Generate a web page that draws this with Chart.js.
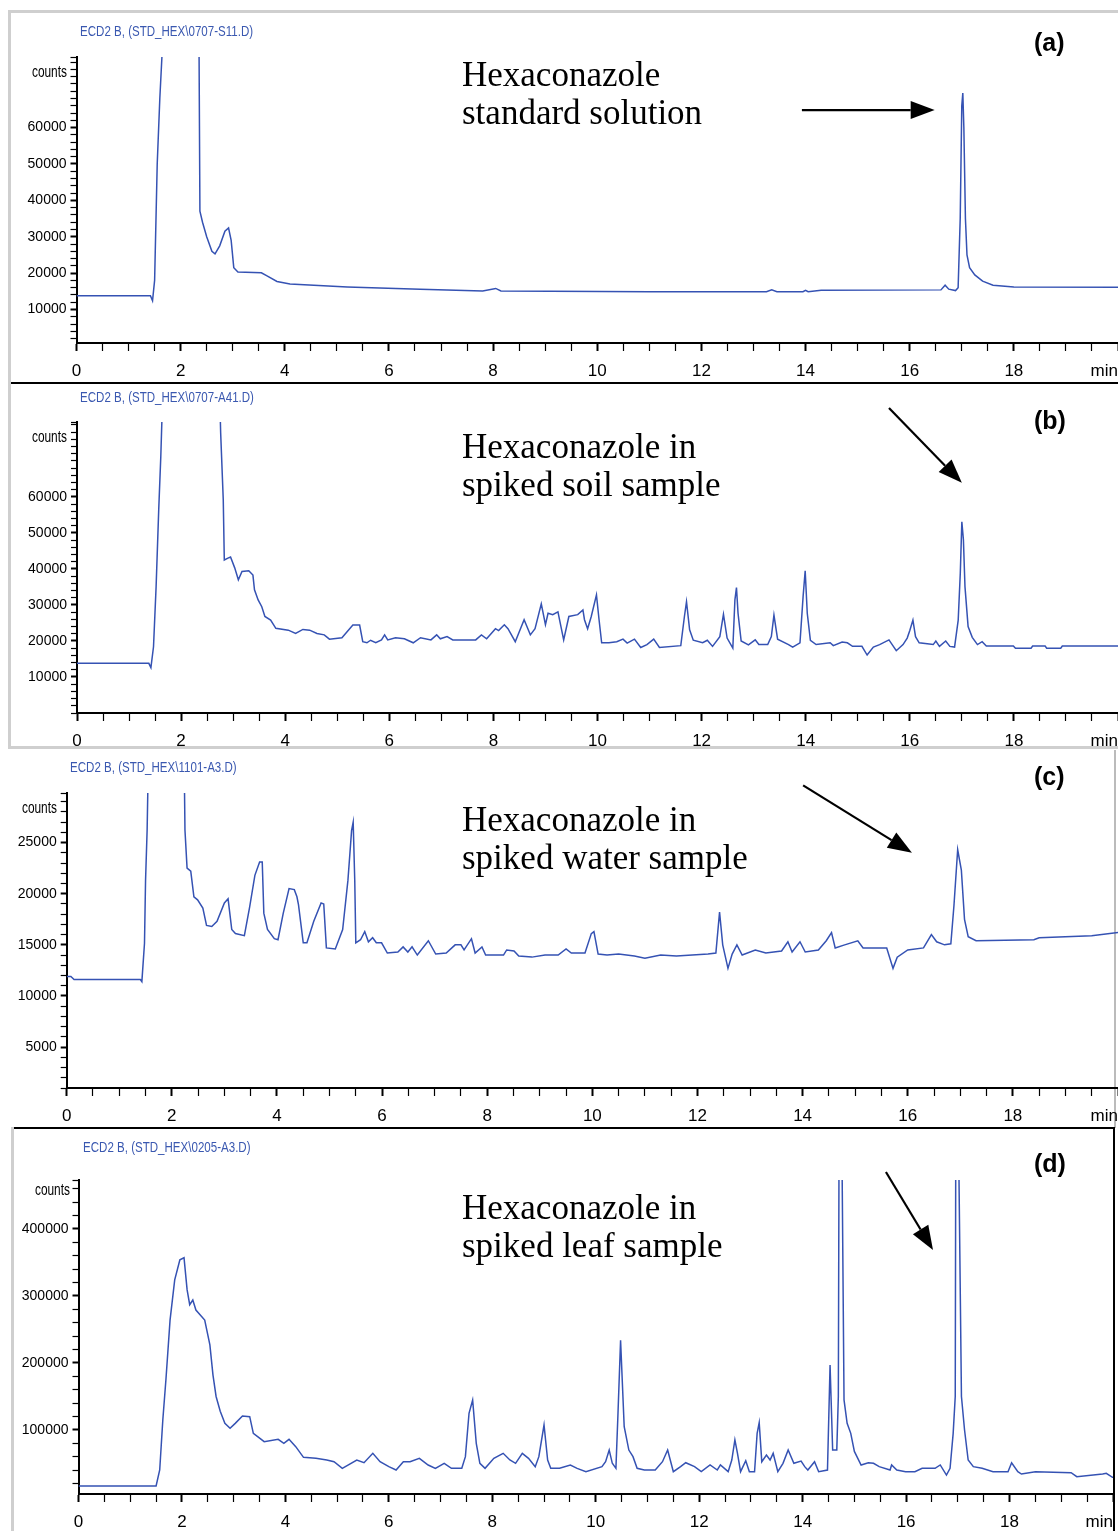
<!DOCTYPE html>
<html>
<head>
<meta charset="utf-8">
<script src="https://cdn.jsdelivr.net/npm/chart.js@4.4.0/dist/chart.umd.min.js"></script>
<style>
  html, body { margin: 0; padding: 0; background: #fff; }
  body { position: relative; width: 1118px; height: 1531px; overflow: hidden; }
  canvas { position: absolute; left: 0; }
  .run { position: absolute; font-family: 'Liberation Sans', Arial, sans-serif; font-size: 15px; line-height: 16px;
         color: #3a58b0; white-space: nowrap; transform: scaleX(0.77); transform-origin: left center; }
  .counts { position: absolute; width: 60px; text-align: right; font-family: 'Liberation Sans', Arial, sans-serif;
            font-size: 17px; line-height: 18px; color: #000; transform: scaleX(0.7); transform-origin: right center; }
  .note { position: absolute; left: 462px; font-family: 'Liberation Serif', 'Times New Roman', serif;
          font-size: 35px; line-height: 38px; color: #000; white-space: nowrap; }
  .tag { position: absolute; left: 1034px; font-family: 'Liberation Sans', Arial, sans-serif; font-weight: bold;
         font-size: 25px; line-height: 26px; color: #000; }
  .rule { position: absolute; }
</style>
</head>
<body>

<!-- panel frames -->
<div class="rule" style="left:8px; top:10px; width:1110px; height:3px; background:#cfcfcf"></div>
<div class="rule" style="left:8px; top:10px; width:3px; height:738px; background:#cfcfcf"></div>
<div class="rule" style="left:11px; top:382px; width:1107px; height:2px; background:#000"></div>
<div class="rule" style="left:8px; top:746px; width:1110px; height:3px; background:#cfcfcf"></div>
<div class="rule" style="left:1114px; top:750px; width:2px; height:378px; background:#bbb"></div>
<div class="rule" style="left:13px; top:1127px; width:1102px; height:2px; background:#000"></div>
<div class="rule" style="left:11px; top:1127px; width:3px; height:404px; background:#cfcfcf"></div>
<div class="rule" style="left:1113px; top:1127px; width:2px; height:404px; background:#000"></div>

<canvas id="chartA" width="1118" height="383" style="top:0px"></canvas>
<canvas id="chartB" width="1118" height="369" style="top:384px"></canvas>
<canvas id="chartC" width="1118" height="378" style="top:750px"></canvas>
<canvas id="chartD" width="1113" height="406" style="top:1128px"></canvas>

<div class="run" style="left:80px; top:23px">ECD2 B, (STD_HEX\0707-S11.D)</div>
<div class="run" style="left:80px; top:389px">ECD2 B, (STD_HEX\0707-A41.D)</div>
<div class="run" style="left:70px; top:759px">ECD2 B, (STD_HEX\1101-A3.D)</div>
<div class="run" style="left:83px; top:1139px">ECD2 B, (STD_HEX\0205-A3.D)</div>

<div class="counts" style="left:7px; top:63px">counts</div>
<div class="counts" style="left:7px; top:428px">counts</div>
<div class="counts" style="left:-3px; top:799px">counts</div>
<div class="counts" style="left:10px; top:1181px">counts</div>

<div class="note" style="top:56px">Hexaconazole<br>standard solution</div>
<div class="note" style="top:428px">Hexaconazole in<br>spiked soil sample</div>
<div class="note" style="top:801px">Hexaconazole in<br>spiked water sample</div>
<div class="note" style="top:1189px">Hexaconazole in<br>spiked leaf sample</div>

<div class="tag" style="top:29px">(a)</div>
<div class="tag" style="top:407px">(b)</div>
<div class="tag" style="top:763px">(c)</div>
<div class="tag" style="top:1150px">(d)</div>

<script>
// retention time (min) and detector response (counts) for each run
const timesA = [
  0, 1.42, 1.46, 1.50, 1.55, 1.60, 1.66, 1.72, 2.30, 2.35,
  2.37, 2.42, 2.50, 2.60, 2.66, 2.75, 2.85, 2.92, 2.97, 3.02,
  3.10, 3.55, 3.65, 3.85, 4.10, 5.20, 6.60, 7.80, 8.05, 8.15,
  11.0, 13.25, 13.35, 13.45, 13.95, 14.00, 14.05, 14.30, 16.60, 16.68,
  16.75, 16.88, 16.93, 16.97, 17.00, 17.02, 17.04, 17.07, 17.10, 17.15,
  17.25, 17.40, 17.60, 18.00, 20.0
]
const countsA = [
  13800, 13800, 12400, 18000, 50000, 68000, 85000, 150000, 150000, 90000,
  37000, 34000, 30000, 26000, 25300, 27500, 31500, 32400, 29000, 21500,
  20300, 20100, 19300, 17700, 17000, 16200, 15600, 15100, 15800, 15100,
  14900, 14900, 15400, 14900, 14900, 15300, 14900, 15300, 15400, 16700,
  15600, 15200, 16000, 35000, 66000, 69500, 60000, 35000, 25000, 21500,
  19500, 17800, 16700, 16200, 16100
]

const timesB = [
  0, 1.38, 1.42, 1.47, 1.52, 1.57, 1.61, 1.66, 1.75, 2.65,
  2.73, 2.76, 2.81, 2.83, 2.90, 2.95, 3.03, 3.10, 3.17, 3.30,
  3.38, 3.41, 3.48, 3.55, 3.61, 3.72, 3.82, 4.06, 4.20, 4.34,
  4.47, 4.61, 4.75, 4.85, 5.09, 5.30, 5.43, 5.49, 5.57, 5.64,
  5.74, 5.85, 5.91, 5.97, 6.12, 6.29, 6.46, 6.60, 6.80, 6.91,
  6.98, 7.11, 7.22, 7.66, 7.77, 7.87, 8.04, 8.10, 8.21, 8.28,
  8.42, 8.59, 8.71, 8.80, 8.92, 9.00, 9.05, 9.14, 9.24, 9.35,
  9.45, 9.62, 9.72, 9.75, 9.81, 9.88, 9.98, 10.03, 10.08, 10.22,
  10.37, 10.49, 10.57, 10.71, 10.83, 10.95, 11.08, 11.19, 11.60, 11.67,
  11.71, 11.77, 11.84, 12.02, 12.11, 12.21, 12.35, 12.42, 12.49, 12.60,
  12.64, 12.67, 12.70, 12.76, 12.90, 13.03, 13.10, 13.27, 13.34, 13.39,
  13.46, 13.67, 13.75, 13.89, 13.95, 13.99, 14.03, 14.09, 14.20, 14.47,
  14.53, 14.70, 14.80, 14.90, 15.08, 15.18, 15.30, 15.42, 15.60, 15.74,
  15.87, 15.95, 16.00, 16.06, 16.11, 16.18, 16.45, 16.50, 16.57, 16.69,
  16.77, 16.86, 16.93, 16.97, 17.00, 17.03, 17.06, 17.12, 17.20, 17.30,
  17.39, 17.47, 17.99, 18.03, 18.33, 18.36, 18.60, 18.63, 18.90, 18.93,
  20.0
]
const countsB = [
  13800, 13800, 12600, 18400, 35100, 56400, 71200, 95000, 150000, 150000,
  95000, 77800, 59200, 42500, 43000, 43300, 40300, 37000, 39300, 39500,
  38300, 34200, 31400, 29500, 26800, 25800, 23500, 23000, 22100, 23200,
  23000, 22100, 21700, 20500, 20900, 24400, 24400, 19800, 19500, 20200,
  19500, 20300, 21700, 20300, 20900, 20600, 19500, 20900, 20300, 21700,
  20600, 21200, 20300, 20300, 21700, 20600, 23400, 22900, 24500, 23400,
  19800, 25900, 21700, 23400, 30300, 24500, 27700, 27300, 28100, 20300,
  26800, 27300, 28600, 25900, 23400, 26800, 32800, 25900, 19500, 19500,
  19800, 20500, 19400, 20500, 18200, 19000, 20500, 18200, 18700, 26800,
  30900, 23100, 20200, 19500, 20200, 18500, 21200, 27400, 20800, 18000,
  31400, 34800, 27700, 20000, 18900, 20300, 19000, 19000, 21200, 27200,
  20500, 19000, 18300, 19500, 32300, 39500, 27700, 20200, 19000, 19500,
  18700, 19700, 19500, 18500, 18500, 16100, 18300, 19000, 20300, 17300,
  19000, 20800, 22900, 25800, 21200, 19500, 19000, 20000, 18500, 20000,
  18500, 18300, 25800, 38800, 53100, 48100, 35100, 24000, 21000, 19000,
  19800, 18600, 18600, 18000, 18000, 18600, 18600, 18000, 18000, 18600,
  18600
]

const timesC = [
  0, 0.08, 0.14, 1.40, 1.43, 1.48, 1.50, 1.53, 1.56, 1.62,
  2.17, 2.23, 2.25, 2.29, 2.36, 2.42, 2.49, 2.59, 2.66, 2.76,
  2.86, 3.00, 3.07, 3.14, 3.21, 3.38, 3.48, 3.58, 3.67, 3.72,
  3.75, 3.82, 3.95, 4.02, 4.12, 4.23, 4.33, 4.38, 4.41, 4.50,
  4.57, 4.70, 4.84, 4.89, 4.94, 5.11, 5.25, 5.35, 5.42, 5.45,
  5.48, 5.50, 5.59, 5.67, 5.74, 5.82, 5.89, 5.99, 6.10, 6.30,
  6.40, 6.49, 6.57, 6.67, 6.88, 7.02, 7.22, 7.39, 7.50, 7.56,
  7.70, 7.77, 7.90, 7.97, 8.31, 8.37, 8.51, 8.60, 8.85, 9.10,
  9.35, 9.50, 9.60, 9.86, 9.98, 10.03, 10.11, 10.28, 10.50, 10.80,
  11.00, 11.30, 11.60, 11.90, 12.20, 12.35, 12.42, 12.48, 12.58, 12.66,
  12.75, 12.85, 13.10, 13.30, 13.60, 13.72, 13.80, 13.95, 14.05, 14.30,
  14.45, 14.55, 14.62, 14.80, 15.05, 15.15, 15.60, 15.72, 15.80, 16.00,
  16.30, 16.45, 16.55, 16.70, 16.82, 16.88, 16.95, 17.02, 17.08, 17.15,
  17.30, 18.40, 18.50, 19.50, 20.0
]
const countsC = [
  11900, 11900, 11600, 11600, 11400, 15150, 21300, 26200, 35000, 60000,
  60000, 35000, 26200, 22500, 22200, 19700, 19400, 18600, 16900, 16800,
  17300, 19100, 19500, 16500, 16100, 15900, 18700, 21800, 23100, 23100,
  18100, 16500, 15600, 15500, 18100, 20500, 20400, 19700, 18900, 15200,
  15200, 17300, 19100, 19000, 14700, 14600, 16500, 21300, 26200, 27000,
  21300, 15200, 15500, 16300, 15300, 15700, 15200, 15200, 14200, 14300,
  14800, 14300, 14800, 14000, 15400, 14100, 14200, 15000, 15000, 14500,
  15600, 14200, 14800, 14000, 14000, 14500, 14400, 13900, 13800, 14000,
  14000, 14600, 14200, 14200, 16100, 16300, 14100, 14000, 14100, 13900,
  13700, 14000, 13900, 14000, 14100, 14200, 18200, 15000, 12700, 14100,
  15000, 14000, 14500, 14200, 14400, 15300, 14300, 15300, 14300, 14500,
  15400, 16200, 14700, 15000, 15400, 14700, 14700, 12700, 13800, 14500,
  14700, 16000, 15300, 15000, 15100, 18900, 24300, 22300, 17500, 15800,
  15400, 15500, 15700, 15900, 16200
]

const timesD = [
  0, 1.50, 1.57, 1.63, 1.69, 1.77, 1.86, 1.96, 2.04, 2.10,
  2.15, 2.21, 2.27, 2.35, 2.44, 2.54, 2.60, 2.66, 2.74, 2.83,
  2.93, 3.03, 3.17, 3.31, 3.38, 3.59, 3.86, 3.97, 4.07, 4.20,
  4.35, 4.59, 4.80, 4.94, 5.10, 5.38, 5.52, 5.69, 5.83, 6.00,
  6.14, 6.28, 6.41, 6.59, 6.76, 6.90, 7.07, 7.21, 7.41, 7.48,
  7.55, 7.62, 7.69, 7.76, 7.86, 8.03, 8.21, 8.34, 8.45, 8.58,
  8.70, 8.83, 8.90, 9.00, 9.07, 9.13, 9.30, 9.51, 9.64, 9.81,
  10.12, 10.19, 10.26, 10.32, 10.39, 10.43, 10.48, 10.55, 10.64, 10.72,
  10.80, 10.94, 11.15, 11.29, 11.39, 11.50, 11.64, 11.74, 11.91, 12.04,
  12.21, 12.35, 12.41, 12.56, 12.63, 12.69, 12.74, 12.80, 12.90, 12.97,
  13.07, 13.12, 13.16, 13.21, 13.30, 13.37, 13.43, 13.52, 13.62, 13.72,
  13.83, 13.97, 14.04, 14.10, 14.23, 14.31, 14.48, 14.53, 14.58, 14.66,
  14.69, 14.71, 14.74, 14.80, 14.86, 14.93, 15.00, 15.13, 15.27, 15.37,
  15.48, 15.69, 15.72, 15.82, 15.99, 16.17, 16.31, 16.56, 16.66, 16.78,
  16.85, 16.91, 16.95, 16.965, 16.99, 17.07, 17.13, 17.20, 17.30, 17.47,
  17.68, 17.86, 17.97, 18.04, 18.16, 18.23, 18.50, 19.19, 19.30, 19.80,
  19.87, 19.99, 20.0
]
const countsD = [
  16400, 16400, 40300, 115000, 175000, 264000, 324000, 354000, 357000, 309000,
  287000, 294000, 279000, 272000, 264000, 227000, 182000, 150000, 128000, 109900,
  102500, 109900, 120900, 119900, 95000, 82600, 86100, 80100, 86100, 75100,
  59200, 57700, 55200, 52700, 42800, 55200, 51200, 65200, 52700, 45300,
  40300, 52700, 52700, 57700, 47800, 42800, 50300, 42800, 42800, 60200,
  124900, 144700, 80100, 50300, 42800, 57700, 65200, 55200, 50300, 65200,
  57700, 45300, 60200, 107400, 55200, 42800, 42800, 47800, 42800, 37800,
  45300, 52700, 70100, 50300, 42800, 124900, 234000, 104900, 70100, 60200,
  42800, 40300, 40300, 52700, 70100, 37800, 45300, 51200, 45300, 37800,
  47800, 40300, 47800, 37800, 55200, 85100, 65200, 37800, 54200, 37800,
  37800, 95000, 110900, 52700, 62700, 55200, 65200, 37800, 50300, 70100,
  50300, 53700, 45300, 40300, 52700, 37800, 40300, 197000, 70100, 70100,
  150000, 700000, 700000, 145000, 110000, 95000, 68000, 47800, 51200, 50300,
  45300, 40300, 47800, 40300, 37800, 37800, 42800, 42800, 47800, 32800,
  42800, 95000, 150000, 700000, 700000, 150000, 100000, 55200, 45300, 42800,
  37800, 37800, 37800, 51200, 37800, 34300, 37800, 36300, 30300, 34300,
  35300, 29400, 29400
]

// labelled ticks
const timeLabels = [0, 2, 4, 6, 8, 10, 12, 14, 16, 18]
const countLabelsA = [10000, 20000, 30000, 40000, 50000, 60000]
const countLabelsB = [10000, 20000, 30000, 40000, 50000, 60000]
const countLabelsC = [5000, 10000, 15000, 20000, 25000]
const countLabelsD = [100000, 200000, 300000, 400000]

// arrows pointing at the hexaconazole peak: [start, end] as [min, counts]
const arrowA = [[13.93, 64800], [16.48, 64800]]
const arrowB = [[15.60, 84700], [17.00, 63900]]
const arrowC = [[14.01, 30600], [16.08, 24000]]
const arrowD = [[15.61, 484900], [16.52, 368500]]

const TICK_FONT = "'Liberation Sans', Arial, sans-serif"
const TRACE = '#3552b3'

function markPlugin(arrow) {
	return {
		id: 'marks',
		afterDraw(chart) {
			const { ctx, scales } = chart
			const x = scales.x
			const y = scales.y
			ctx.save()
			// unit label at the end of the time axis
			ctx.font = '17px ' + TICK_FONT
			ctx.fillStyle = '#000'
			ctx.textAlign = 'right'
			ctx.textBaseline = 'top'
			ctx.fillText('min', x.right, x.top + 20)

			const x0 = x.getPixelForValue(arrow[0][0])
			const y0 = y.getPixelForValue(arrow[0][1])
			const x1 = x.getPixelForValue(arrow[1][0])
			const y1 = y.getPixelForValue(arrow[1][1])
			const ang = Math.atan2(y1 - y0, x1 - x0)
			const head = 24
			const half = 9
			const cos = Math.cos(ang)
			const sin = Math.sin(ang)
			ctx.strokeStyle = '#000'
			ctx.lineWidth = 2.2
			ctx.beginPath()
			ctx.moveTo(x0, y0)
			ctx.lineTo(x1 - head * cos, y1 - head * sin)
			ctx.stroke()
			ctx.beginPath()
			ctx.moveTo(x1, y1)
			ctx.lineTo(x1 - head * cos + half * sin, y1 - head * sin - half * cos)
			ctx.lineTo(x1 - head * cos - half * sin, y1 - head * sin + half * cos)
			ctx.closePath()
			ctx.fill()
			ctx.restore()
		},
	}
}

function printChromatogram(id, times, counts, axis, countLabels, arrow) {
	const points = times.map((t, i) => ({ x: t, y: counts[i] }))

	const chartData = {
		datasets: [
			{
				data: points,
				borderColor: TRACE,
				borderWidth: 1.5,
				pointRadius: 0,
				tension: 0,
				fill: false,
			},
		],
	}

	const optionsData = {
		responsive: false,
		animation: false,
		events: [],
		layout: { padding: { left: axis.left, top: axis.top, right: 0, bottom: 0 } },
		plugins: {
			legend: { display: false },
			tooltip: { enabled: false },
		},
		scales: {
			x: {
				type: 'linear',
				min: 0,
				max: 20,
				border: { color: '#000', width: 2 },
				grid: {
					drawOnChartArea: false,
					tickLength: 8,
					tickColor: '#000',
					tickWidth: c => (c.tick && c.tick.value % 2 === 0 ? 2 : 1.2),
				},
				ticks: {
					stepSize: 0.5,
					autoSkip: false,
					maxRotation: 0,
					minRotation: 0,
					padding: 10,
					color: '#000',
					font: { family: TICK_FONT, size: 17 },
					callback: v => (timeLabels.includes(v) ? String(v) : ''),
				},
				afterFit: s => {
					s.height = 40
					s.paddingLeft = 0
					s.paddingRight = 0
				},
			},
			y: {
				type: 'linear',
				min: axis.min,
				max: axis.max,
				border: { color: '#000', width: 2 },
				grid: {
					drawOnChartArea: false,
					tickLength: 6,
					tickColor: '#000',
					tickWidth: c => (c.tick && countLabels.includes(c.tick.value) ? 2 : 1.2),
				},
				ticks: {
					autoSkip: false,
					padding: 4,
					color: '#000',
					font: { family: TICK_FONT, size: 14 },
					callback: v => (countLabels.includes(v) ? String(v) : ''),
				},
				// minor ticks on round multiples of the step, plus the top end of the axis
				afterBuildTicks: s => {
					const ticks = []
					for (let v = Math.ceil(axis.min / axis.step) * axis.step; v < axis.max; v += axis.step) {
						ticks.push({ value: v })
					}
					ticks.push({ value: axis.max })
					s.ticks = ticks
				},
				afterFit: s => {
					s.width = 60
					s.paddingTop = 0
					s.paddingBottom = 0
				},
			},
		},
	}

	new Chart(id, { type: 'line', data: chartData, options: optionsData, plugins: [markPlugin(arrow)] })
}

printChromatogram('chartA', timesA, countsA, { left: 16.5, top: 57, min: 800, max: 79400, step: 2000 }, countLabelsA, arrowA)
printChromatogram('chartB', timesB, countsB, { left: 17, top: 38, min: 0, max: 80800, step: 2000 }, countLabelsB, arrowB)
printChromatogram('chartC', timesC, countsC, { left: 6.7, top: 43, min: 1000, max: 29850, step: 1000 }, countLabelsC, arrowC)
printChromatogram('chartD', timesD, countsD, { left: 18.5, top: 52, min: 4500, max: 473000, step: 20000 }, countLabelsD, arrowD)
</script>
</body>
</html>
